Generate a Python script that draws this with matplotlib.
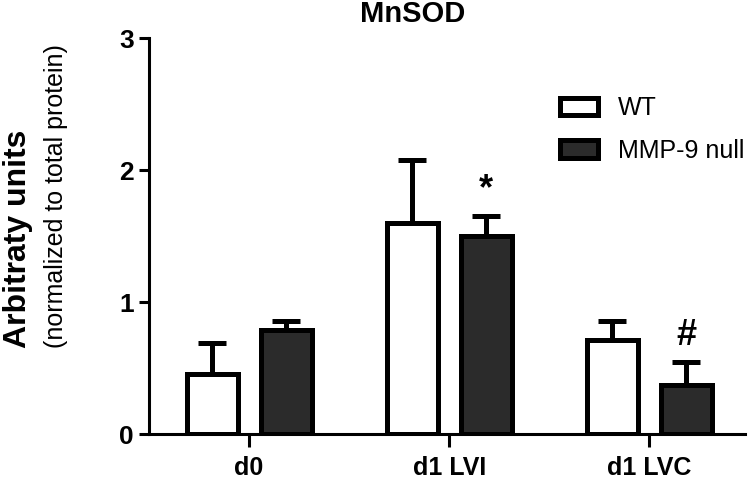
import numpy as np
import matplotlib
matplotlib.use("Agg")
import matplotlib.pyplot as plt

plt.rcParams['font.family'] = ['Liberation Sans', 'DejaVu Sans']

groups = ["d0", "d1 LVI", "d1 LVC"]
wt_mean = [0.455, 1.60, 0.71]
wt_err = [0.235, 0.475, 0.145]
null_mean = [0.79, 1.50, 0.37]
null_err = [0.065, 0.15, 0.175]
marks = ["", "*", "#"]  # significance marks above MMP-9 null bars

fig = plt.figure(figsize=(7.5, 4.84), dpi=100)
ax = fig.add_axes([0.1987, 0.1033, 0.795, 0.818])

x = np.arange(len(groups))
w = 0.255
off = 0.185
lw = 3.6

ax.bar(x - off, wt_mean, w, color="white", edgecolor="black", linewidth=lw,
       label="WT", zorder=3)
ax.bar(x + off, null_mean, w, color="#2b2b2b", edgecolor="black", linewidth=lw,
       label="MMP-9 null", zorder=3)
ax.errorbar(x - off, wt_mean, yerr=[np.zeros(3), wt_err], fmt="none",
            ecolor="black", elinewidth=lw, capsize=10, capthick=lw, zorder=2)
ax.errorbar(x + off, null_mean, yerr=[np.zeros(3), null_err], fmt="none",
            ecolor="black", elinewidth=lw, capsize=10, capthick=lw, zorder=2)

for i, m in enumerate(marks):
    if m:
        ax.text(x[i] + off, null_mean[i] + null_err[i] + 0.07, m, ha="center",
                va="bottom", fontsize=26, fontweight="bold")

ax.set_xlim(-0.5, 2.48)
ax.set_ylim(0, 3)
ax.set_yticks([0, 1, 2, 3])
ax.set_xticks(x)
ax.set_xticklabels(groups)
for lab in ax.get_yticklabels():
    lab.set_fontweight("bold")
    lab.set_fontsize(19)
for lab in ax.get_xticklabels():
    lab.set_fontweight("bold")
    lab.set_fontsize(18)
ax.tick_params(axis="y", width=2.2, length=7, pad=4)
ax.tick_params(axis="x", width=2.2, length=9, pad=7)
ax.spines["top"].set_visible(False)
ax.spines["right"].set_visible(False)
ax.spines["left"].set_linewidth(2.2)
ax.spines["bottom"].set_linewidth(2.2)

fig.text(0.55, 1 - 14 / 484, "MnSOD", ha="center", va="center",
         fontsize=21, fontweight="bold")
fig.text(18 / 750, 1 - 348 / 484, "Arbitraty units", rotation=90, ha="center",
         va="bottom", fontsize=23, fontweight="bold")
fig.text(56 / 750, 1 - 348 / 484, "(normalized to total protein)", rotation=90,
         ha="center", va="bottom", fontsize=18)

leg = ax.legend(loc="upper left", bbox_to_anchor=(560 / 750, 1 - 96 / 484),
                bbox_transform=fig.transFigure, frameon=False, fontsize=18,
                handlelength=1.5, handleheight=0.7, labelspacing=0.75,
                handletextpad=0.8, borderaxespad=0, borderpad=0)

fig.savefig("out.png", dpi=100)
